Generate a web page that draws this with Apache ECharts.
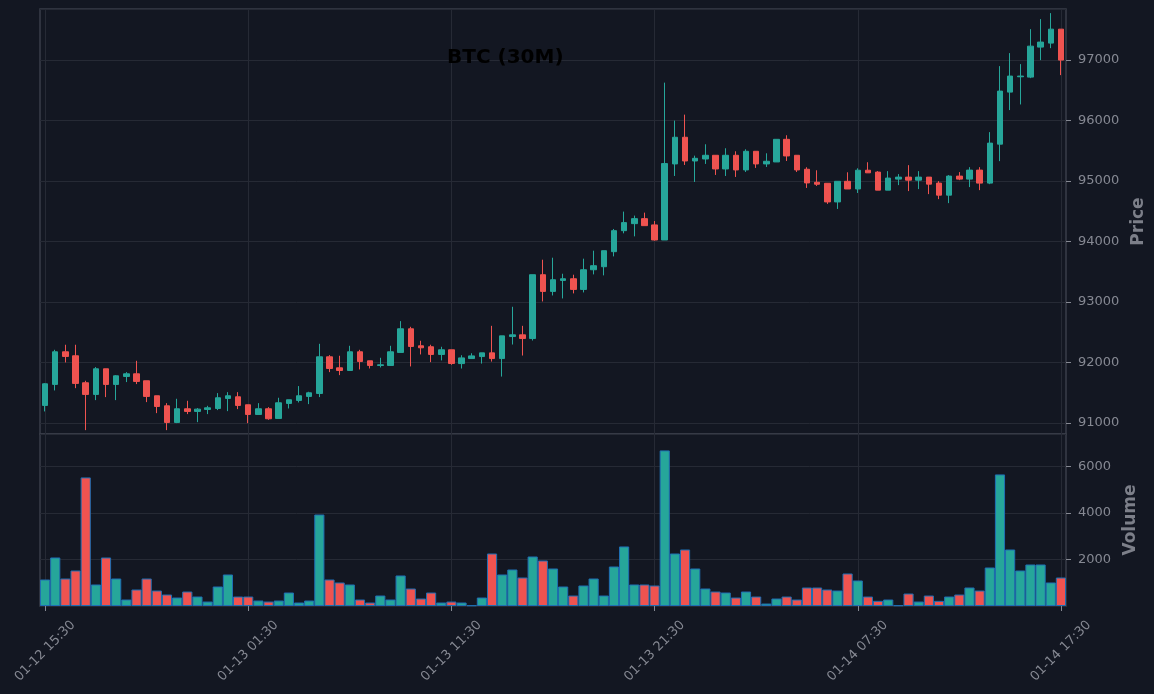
<!DOCTYPE html>
<html><head><meta charset="utf-8">
<script src="https://cdn.jsdelivr.net/npm/echarts@6/dist/echarts.min.js"></script>
<style>html,body{margin:0;padding:0;background:#131722;}#c{width:1154px;height:694px;}</style>
</head><body><div id="c"></div>
<script>
const categories = [
"01-12 15:30","01-12 16:00","01-12 16:30","01-12 17:00","01-12 17:30","01-12 18:00","01-12 18:30","01-12 19:00","01-12 19:30","01-12 20:00","01-12 20:30","01-12 21:00","01-12 21:30","01-12 22:00","01-12 22:30","01-12 23:00","01-12 23:30",
"01-13 00:00","01-13 00:30","01-13 01:00","01-13 01:30","01-13 02:00","01-13 02:30","01-13 03:00","01-13 03:30","01-13 04:00","01-13 04:30","01-13 05:00","01-13 05:30","01-13 06:00","01-13 06:30","01-13 07:00","01-13 07:30","01-13 08:00","01-13 08:30","01-13 09:00","01-13 09:30","01-13 10:00","01-13 10:30","01-13 11:00","01-13 11:30","01-13 12:00","01-13 12:30","01-13 13:00","01-13 13:30","01-13 14:00","01-13 14:30","01-13 15:00","01-13 15:30","01-13 16:00","01-13 16:30","01-13 17:00","01-13 17:30","01-13 18:00","01-13 18:30","01-13 19:00","01-13 19:30","01-13 20:00","01-13 20:30","01-13 21:00","01-13 21:30","01-13 22:00","01-13 22:30","01-13 23:00","01-13 23:30",
"01-14 00:00","01-14 00:30","01-14 01:00","01-14 01:30","01-14 02:00","01-14 02:30","01-14 03:00","01-14 03:30","01-14 04:00","01-14 04:30","01-14 05:00","01-14 05:30","01-14 06:00","01-14 06:30","01-14 07:00","01-14 07:30","01-14 08:00","01-14 08:30","01-14 09:00","01-14 09:30","01-14 10:00","01-14 10:30","01-14 11:00","01-14 11:30","01-14 12:00","01-14 12:30","01-14 13:00","01-14 13:30","01-14 14:00","01-14 14:30","01-14 15:00","01-14 15:30","01-14 16:00","01-14 16:30","01-14 17:00","01-14 17:30"];

const opens = [91292,91640,92179,92113,91667,91474,91898,91639,91771,91815,91700,91452,91286,91011,91237,91193,91226,91242,91408,91435,
91303,91143,91237,91077,91325,91375,91441,91490,92096,91914,91870,92179,92030,91953,91953,92168,92559,92278,92262,92135,
92212,91984,92067,92100,92161,92067,92431,92459,92398,93453,93177,93359,93386,93210,93535,93585,93834,94181,94297,94380,
94276,94027,95284,95725,95333,95366,95427,95201,95427,95185,95493,95284,95317,95691,95427,95196,94981,94964,94656,94997,
94870,95180,95149,94851,95033,95066,95016,95066,94967,94768,95083,95033,95182,94967,95611,96471,96725,96719,97215,97281,97512];
const closes = [91650,92179,92102,91656,91474,91898,91639,91782,91815,91689,91441,91275,91011,91237,91193,91231,91253,91419,91452,91292,
91143,91237,91072,91336,91386,91452,91501,92096,91903,91870,92179,92019,91953,91964,92179,92559,92267,92245,92135,92212,
91986,92078,92111,92161,92067,92442,92459,92398,93453,93177,93370,93386,93210,93535,93602,93850,94181,94314,94380,94264,
94027,95290,95725,95333,95377,95427,95201,95427,95185,95493,95284,95328,95691,95416,95185,94970,94948,94656,94997,94870,
95180,95137,94851,95050,95066,95016,95066,94950,94768,95083,95033,95182,94967,95628,96488,96736,96736,97231,97298,97512,97000];
const lows = [91193,91540,92003,91578,90884,91380,91430,91380,91678,91645,91347,91165,90884,91000,91149,91016,91149,91215,91198,91231,
91000,91143,91055,91077,91242,91341,91314,91430,91843,91793,91870,91887,91903,91920,91953,92168,91937,92135,92008,92036,
91964,91902,92067,91984,92017,91769,92299,92117,92365,93011,93110,93061,93144,93160,93458,93442,93756,94137,94087,94264,
94016,94027,95085,95267,94986,95284,95102,95085,95069,95151,95218,95234,95317,95333,95151,94887,94920,94623,94540,94870,
94804,95137,94851,94851,94934,94835,94868,94785,94702,94636,95016,94901,94851,94950,95330,96174,96267,96702,97000,97198,96752];
const highs = [91660,92212,92295,92295,91700,91926,91898,91793,91843,92030,91700,91452,91330,91402,91369,91248,91286,91496,91512,91512,
91303,91330,91264,91419,91386,91612,91518,92311,92124,92113,92278,92212,92030,92080,92278,92686,92592,92361,92295,92262,
92212,92122,92155,92161,92608,92442,92923,92608,93453,93701,93734,93469,93453,93718,93850,93850,94209,94496,94430,94479,
94340,96628,96000,96099,95421,95609,95427,95543,95493,95526,95493,95460,95691,95758,95427,95229,95179,94964,94997,95146,
95212,95312,95165,95165,95116,95264,95165,95066,95000,95099,95149,95231,95231,95810,96901,97116,96934,97512,97678,97777,97512];
const volumes = [1138,2084,1181,1525,5523,924,2084,1181,278,708,1181,665,493,364,622,407,192,837,1353,407,
407,235,192,235,579,150,235,3929,1138,1010,924,278,150,450,278,1311,751,321,579,150,
192,150,30,364,2255,1353,1568,1224,2126,1955,1611,837,450,880,1181,450,1697,2557,924,924,
880,6683,2255,2427,1611,751,622,579,364,622,407,106,321,407,278,794,794,708,665,1397,
1096,407,221,278,30,536,192,450,221,407,493,794,665,1654,5651,2427,1525,1783,1783,1010,1224];

const UP = '#26a69a', DOWN = '#ef5350';
const GRID = '#262a35', FRAME = '#3a3e49', TXT = '#868993';
const FONT = 'DejaVu Sans';

const candleData = opens.map((o, i) => [o, closes[i], lows[i], highs[i]]);
const volData = volumes.map((v, i) => ({ value: v, itemStyle: { color: closes[i] >= opens[i] ? UP : DOWN } }));
const plain = v => String(Math.round(v));

const chart = echarts.init(document.getElementById('c'), null, { renderer: 'canvas' });
chart.setOption({
  animation: false,
  backgroundColor: '#131722',
  title: {
    text: 'BTC (30M)', left: 442, top: 43,
    textStyle: { color: '#000000', fontFamily: FONT, fontWeight: 'bold', fontSize: 20 }
  },
  grid: [
    { left: 40, right: 88, top: 9, height: 425, outerBoundsMode: 'none', containLabel: false,
      show: true, borderColor: FRAME, borderWidth: 1.5, backgroundColor: 'transparent' },
    { left: 40, right: 88, top: 434, height: 172, outerBoundsMode: 'none', containLabel: false,
      show: true, borderColor: FRAME, borderWidth: 1.5, backgroundColor: 'transparent' }
  ],
  xAxis: [
    { type: 'category', gridIndex: 0, data: categories, boundaryGap: true,
      axisLine: { show: false }, axisTick: { show: false }, axisLabel: { show: false },
      splitLine: { show: true, interval: 19, alignWithLabel: true, lineStyle: { color: GRID, width: 1 } } },
    { type: 'category', gridIndex: 1, data: categories, boundaryGap: true,
      axisLine: { show: false },
      axisTick: { show: true, interval: 19, alignWithLabel: true, length: 5, lineStyle: { color: TXT } },
      axisLabel: { show: true, interval: 19, rotate: 45, align: 'center', verticalAlign: 'middle', margin: 45,
        color: TXT, fontFamily: FONT, fontSize: 13 },
      splitLine: { show: true, interval: 19, alignWithLabel: true, lineStyle: { color: GRID, width: 1 } } }
  ],
  yAxis: [
    { type: 'value', gridIndex: 0, position: 'right', min: 90820, max: 97845, scale: true,
      name: 'Price', nameLocation: 'middle', nameGap: 61, nameRotate: 90,
      nameTextStyle: { color: '#7c7f89', fontFamily: FONT, fontWeight: 'bold', fontSize: 17 },
      axisLine: { show: false },
      axisTick: { show: true, length: 5, lineStyle: { color: TXT } },
      axisLabel: { color: TXT, fontFamily: FONT, fontSize: 13, margin: 12, showMinLabel: false, showMaxLabel: false, formatter: plain },
      splitLine: { show: true, lineStyle: { color: GRID, width: 1 } } },
    { type: 'value', gridIndex: 1, position: 'right', min: 0, max: 7387, interval: 2000,
      name: 'Volume', nameLocation: 'middle', nameGap: 48, nameRotate: 90,
      nameTextStyle: { color: '#7c7f89', fontFamily: FONT, fontWeight: 'bold', fontSize: 17 },
      axisLine: { show: false },
      axisTick: { show: true, length: 5, lineStyle: { color: TXT } },
      axisLabel: { color: TXT, fontFamily: FONT, fontSize: 13, margin: 12, showMinLabel: false, showMaxLabel: false, formatter: plain },
      splitLine: { show: true, lineStyle: { color: GRID, width: 1 } } }
  ],
  series: [
    { type: 'candlestick', xAxisIndex: 0, yAxisIndex: 0, data: candleData, barWidth: 6,
      itemStyle: { color: UP, color0: DOWN, borderColor: UP, borderColor0: DOWN, borderColorDoji: UP, borderWidth: 1 } },
    { type: 'bar', xAxisIndex: 1, yAxisIndex: 1, data: volData, barCategoryGap: '0%',
      itemStyle: { borderColor: '#1f6fb4', borderWidth: 1 } }
  ]
});
</script></body></html>
